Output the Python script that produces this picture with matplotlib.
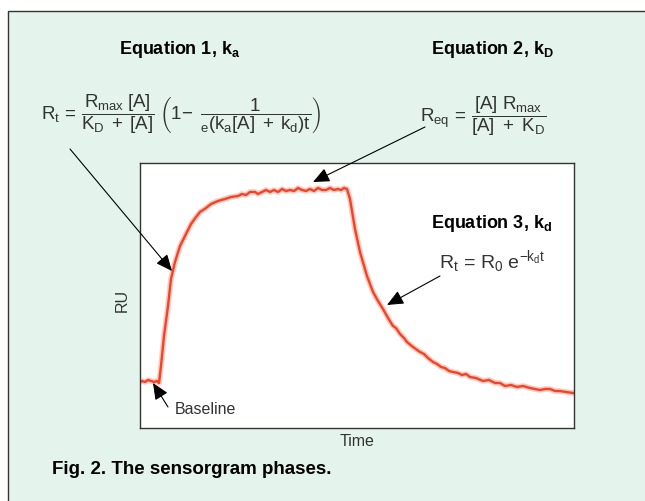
import matplotlib
matplotlib.use("Agg")
import matplotlib.pyplot as plt
from matplotlib.patches import Rectangle

plt.rcParams['font.family'] = ['Liberation Sans', 'DejaVu Sans']
plt.rcParams['mathtext.fontset'] = 'custom'
plt.rcParams['mathtext.rm'] = 'Liberation Sans'
plt.rcParams['mathtext.it'] = 'Liberation Sans'
plt.rcParams['mathtext.bf'] = 'Liberation Sans:bold'

# sensorgram (time and RU in arbitrary units)
time = [0, 2, 5, 8, 11, 14, 17, 19, 21, 24, 28, 31, 35, 40, 45, 51, 56, 60, 66, 71,
        78, 85, 91, 98, 102, 106, 110, 115, 118, 122, 126, 130, 134, 138, 142, 146, 150,
        154, 158, 162, 166, 170, 174, 178, 182, 186, 190, 194, 198, 201, 204, 207,
        210, 215, 220, 227, 233, 238, 243, 248, 253, 256, 260, 264, 267, 273, 280,
        284, 288, 293, 297, 301, 305, 309, 313, 318, 322, 326, 330, 336, 343, 349, 355,
        360, 365, 371, 377, 383, 390, 395, 400, 405, 410, 415, 420, 426, 433]
ru = [46, 47, 46, 48, 47, 46, 47, 45, 62, 92, 122, 149, 166, 182, 192, 204, 211, 216, 220, 224,
      227, 229, 231, 232, 234, 233, 236, 236, 234, 236, 238, 236, 238, 236, 239, 237, 238,
      237, 240, 238, 237, 239, 237, 240, 238, 238, 240, 238, 239, 238, 240, 239,
      229, 199, 176, 152, 136, 127, 119, 110, 102, 100, 94, 90, 86, 81, 76,
      74, 70, 66, 64, 61, 60, 57, 56, 55, 53, 54, 51, 50, 47, 48, 45,
      45, 42, 43, 41, 42, 40, 39, 38, 39, 39, 37, 37, 36, 35]

W, H = 645, 502
fig = plt.figure(figsize=(W / 100, H / 100), dpi=100)
fig.patch.set_facecolor('white')

# light green panel, cut at the right and bottom
fig.add_artist(Rectangle((8 / W, -0.05), 1.2, 1 - 12 / H + 0.05, transform=fig.transFigure,
                         facecolor='#e4f4ec', edgecolor='#333333', lw=1.0, zorder=0))

ax = fig.add_axes([140 / W, (H - 429) / H, 434 / W, 265 / H])
ax.set_facecolor('white')
ax.plot(time, ru, color='#f9a796', lw=4.0, alpha=0.6, solid_joinstyle='round')
ax.plot(time, ru, color='#f04428', lw=1.7, solid_joinstyle='round')
ax.set_xlim(0, 434)
ax.set_ylim(0, 265)
ax.set_xticks([])
ax.set_yticks([])
for s in ax.spines.values():
    s.set_color('#333333')
    s.set_linewidth(1.0)


def ftext(x, y, s, **kw):
    fig.text(x / W, 1 - y / H, s, **kw)


ftext(180, 50, r'Equation 1, k$_{\mathbf{a}}$', fontsize=13, weight='bold', ha='center', va='center')
ftext(492, 50, r'Equation 2, k$_{\mathbf{D}}$', fontsize=13, weight='bold', ha='center', va='center')
ftext(492, 224, r'Equation 3, k$_{\mathbf{d}}$', fontsize=13, weight='bold', ha='center', va='center')

ftext(181, 114, r'$R_t\,=\,\dfrac{R_{max}\;[A]}{K_D\;+\;[A]}\;\left(1\!-\;\dfrac{1}{{}_{e}(k_a[A]\;+\;k_d)t}\right)$',
      fontsize=13.5, color='#333333', ha='center', va='center')
ftext(483, 116, r'$R_{eq}\,=\,\dfrac{[A]\ R_{max}}{[A]\ +\ K_D}$',
      fontsize=13.5, color='#333333', ha='center', va='center')
ftext(492, 262, r'$R_t\,=\,R_0\;e^{-k_d t}$', fontsize=14, color='#333333', ha='center', va='center')

ftext(175, 410, 'Baseline', fontsize=11.5, color='#333333', ha='left', va='center')
ftext(122, 300, 'RU', fontsize=11.5, color='#333333', ha='center', va='center', rotation=90)
ftext(357, 442, 'Time', fontsize=11.5, color='#333333', ha='center', va='center')
ftext(52, 470, 'Fig. 2. The sensorgram phases.', fontsize=13.5, weight='bold', ha='left', va='center')

arrow = dict(arrowstyle='-|>,head_length=0.5,head_width=0.22', color='black', lw=0.8,
             mutation_scale=20, shrinkA=0, shrinkB=0)
# (tip in data coords, tail in figure pixels)
ax.annotate('', xy=(32, 157), xycoords='data', xytext=(70, H - 150), textcoords='figure pixels',
            arrowprops=arrow, annotation_clip=False)
ax.annotate('', xy=(173, 246), xycoords='data', xytext=(425, H - 128), textcoords='figure pixels',
            arrowprops=arrow, annotation_clip=False)
ax.annotate('', xy=(247, 123), xycoords='data', xytext=(440, H - 277), textcoords='figure pixels',
            arrowprops=arrow, annotation_clip=False)
ax.annotate('', xy=(13, 45), xycoords='data', xytext=(168, H - 408), textcoords='figure pixels',
            arrowprops=arrow, annotation_clip=False)

fig.savefig('out.png', dpi=100)
